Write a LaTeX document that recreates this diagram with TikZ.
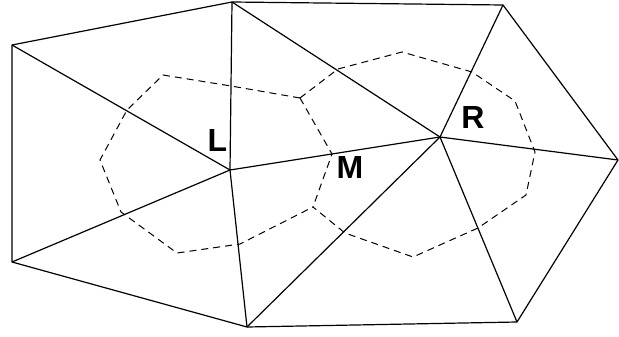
\documentclass[tikz,border=0pt]{standalone}
\usepackage{fontspec}
\setmainfont{Liberation Sans}
\usetikzlibrary{positioning}

\begin{document}
\begin{tikzpicture}[
  x=1pt,y=-1pt,
  edge/.style={line width=1.2pt,line join=round},
  dual/.style={line width=1pt,dash pattern=on 7pt off 5pt},
  lab/.style={font=\bfseries\fontsize{32}{32}\selectfont,inner sep=0pt}
]
  \useasboundingbox (0,0) rectangle (619,337);
  % mesh vertices
  \coordinate (A) at (12,45);
  \coordinate (B) at (232,2);
  \coordinate (C) at (503,5);
  \coordinate (D) at (618,160);
  \coordinate (E) at (517,322);
  \coordinate (F) at (247,327);
  \coordinate (G) at (12,262);
  \coordinate (Lp) at (230,170);
  \coordinate (Rp) at (440,137);
  % dual cell corners
  \coordinate (cBLR) at (300,98);
  \coordinate (cLRF) at (313,207);
  \coordinate (mLR) at (332,154);
  \draw[edge] (A) -- (B) -- (C) -- (D) -- (E) -- (F) -- (G) -- cycle;
  \foreach \v in {A,B,F,G} \draw[edge] (Lp) -- (\v);
  \foreach \v in {B,C,D,E,F} \draw[edge] (Rp) -- (\v);
  \draw[edge] (Lp) -- (Rp);
  \draw[dual] (cBLR) -- (231,86) -- (163,75) -- (127,110) -- (100,160)
    -- (121,212) -- (177,253) -- (240,244) -- (cLRF);
  \draw[dual] (cBLR) -- (338,69) -- (402,52) -- (472,72) -- (515,101)
    -- (535,152) -- (526,195) -- (478,228) -- (413,257) -- (345,233) -- (cLRF);
  \draw[dual] (cBLR) -- (mLR) -- (cLRF);
  \node[lab] (L) at (217.5,140.5) {L};
  \node[lab] (R) at (473,117) {R};
  \node[lab] (M) at (350,167.5) {M};
\end{tikzpicture}
\end{document}
